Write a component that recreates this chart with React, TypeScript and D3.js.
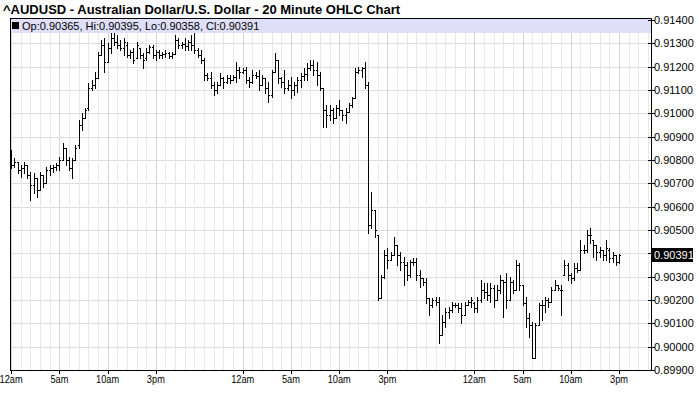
import React, { useEffect } from 'react';
import * as d3 from 'd3';

const title = '^AUDUSD - Australian Dollar/U.S. Dollar - 20 Minute OHLC Chart';
const barMinutes = 20;
const xTickHours = [0, 5, 10, 15, 24, 29, 34, 39, 48, 53, 58, 63];
const xTickLabels = ['12am', '5am', '10am', '3pm', '12am', '5am', '10am', '3pm', '12am', '5am', '10am', '3pm'];
const yTicks = [0.899, 0.9, 0.901, 0.902, 0.903, 0.904, 0.905, 0.906, 0.907, 0.908, 0.909, 0.91, 0.911, 0.912, 0.913, 0.914];
const lastBar = { op: 0.90365, hi: 0.90395, lo: 0.90358, cl: 0.90391 };

const opens = [
  0.90800,0.90779,0.90792,0.90757,0.90766,0.90779,0.90736,0.90693,0.90723,0.90672,
  0.90736,0.90702,0.90757,0.90766,0.90770,0.90779,0.90800,0.90852,0.90800,0.90766,
  0.90800,0.90865,0.90950,0.90980,0.91023,0.91109,0.91122,0.91152,0.91250,0.91293,
  0.91220,0.91280,0.91323,0.91306,0.91293,0.91280,0.91293,0.91250,0.91263,0.91237,
  0.91280,0.91250,0.91237,0.91263,0.91285,0.91250,0.91263,0.91250,0.91255,0.91259,
  0.91246,0.91255,0.91315,0.91293,0.91297,0.91289,0.91306,0.91293,0.91272,0.91250,
  0.91229,0.91165,0.91152,0.91122,0.91100,0.91122,0.91152,0.91135,0.91152,0.91143,
  0.91156,0.91186,0.91177,0.91186,0.91143,0.91135,0.91165,0.91160,0.91122,0.91152,
  0.91109,0.91079,0.91177,0.91229,0.91152,0.91135,0.91109,0.91122,0.91100,0.91122,
  0.91143,0.91160,0.91169,0.91195,0.91207,0.91186,0.91165,0.91109,0.91015,0.90993,
  0.91015,0.90980,0.91023,0.91015,0.90993,0.91006,0.91036,0.91066,0.91177,0.91186,
  0.91195,0.91122,0.90522,0.90586,0.90479,0.90209,0.90299,0.90393,0.90372,0.90393,
  0.90436,0.90393,0.90363,0.90350,0.90307,0.90363,0.90363,0.90307,0.90295,0.90277,
  0.90209,0.90179,0.90200,0.90192,0.90050,0.90106,0.90149,0.90157,0.90179,0.90179,
  0.90166,0.90136,0.90179,0.90192,0.90187,0.90166,0.90200,0.90243,0.90235,0.90222,
  0.90252,0.90200,0.90243,0.90286,0.90277,0.90200,0.90277,0.90243,0.90350,0.90265,
  0.90187,0.90123,0.90093,0.89952,0.90093,0.90179,0.90179,0.90200,0.90192,0.90243,
  0.90265,0.90243,0.90307,0.90350,0.90307,0.90295,0.90337,0.90329,0.90415,0.90415,
  0.90479,0.90457,0.90436,0.90406,0.90415,0.90393,0.90415,0.90380,0.90393,0.90365,
];
const highs = [
  0.90843,0.90809,0.90792,0.90779,0.90792,0.90779,0.90749,0.90745,0.90723,0.90749,
  0.90736,0.90770,0.90779,0.90779,0.90787,0.90813,0.90873,0.90852,0.90813,0.90809,
  0.90865,0.90972,0.91002,0.91023,0.91130,0.91143,0.91177,0.91263,0.91315,0.91323,
  0.91302,0.91345,0.91345,0.91336,0.91315,0.91323,0.91306,0.91272,0.91280,0.91306,
  0.91280,0.91259,0.91280,0.91293,0.91293,0.91272,0.91272,0.91263,0.91272,0.91263,
  0.91263,0.91336,0.91323,0.91306,0.91323,0.91315,0.91336,0.91345,0.91280,0.91272,
  0.91237,0.91173,0.91177,0.91135,0.91135,0.91173,0.91156,0.91165,0.91165,0.91165,
  0.91220,0.91199,0.91195,0.91199,0.91156,0.91186,0.91177,0.91186,0.91165,0.91152,
  0.91135,0.91186,0.91259,0.91229,0.91156,0.91186,0.91143,0.91156,0.91135,0.91156,
  0.91173,0.91195,0.91216,0.91229,0.91229,0.91220,0.91177,0.91109,0.91036,0.91036,
  0.91023,0.91036,0.91057,0.91015,0.91023,0.91045,0.91070,0.91195,0.91199,0.91199,
  0.91220,0.91135,0.90663,0.90586,0.90479,0.90307,0.90415,0.90423,0.90406,0.90470,
  0.90436,0.90406,0.90385,0.90363,0.90372,0.90380,0.90380,0.90329,0.90295,0.90295,
  0.90209,0.90209,0.90213,0.90213,0.90136,0.90166,0.90170,0.90192,0.90187,0.90187,
  0.90187,0.90192,0.90200,0.90213,0.90192,0.90213,0.90286,0.90273,0.90273,0.90273,
  0.90265,0.90265,0.90307,0.90286,0.90316,0.90299,0.90286,0.90372,0.90359,0.90265,
  0.90213,0.90145,0.90106,0.90102,0.90187,0.90200,0.90213,0.90209,0.90256,0.90286,
  0.90265,0.90265,0.90372,0.90359,0.90316,0.90359,0.90359,0.90457,0.90436,0.90500,
  0.90509,0.90457,0.90436,0.90427,0.90415,0.90457,0.90423,0.90406,0.90393,0.90395,
];
const lows = [
  0.90766,0.90770,0.90745,0.90727,0.90745,0.90723,0.90629,0.90659,0.90642,0.90672,
  0.90685,0.90702,0.90736,0.90749,0.90757,0.90757,0.90800,0.90779,0.90757,0.90723,
  0.90800,0.90852,0.90929,0.90980,0.91015,0.91100,0.91109,0.91152,0.91250,0.91177,
  0.91220,0.91259,0.91293,0.91280,0.91272,0.91250,0.91242,0.91237,0.91216,0.91237,
  0.91237,0.91195,0.91229,0.91259,0.91237,0.91229,0.91237,0.91237,0.91242,0.91237,
  0.91237,0.91255,0.91280,0.91280,0.91272,0.91272,0.91272,0.91259,0.91242,0.91216,
  0.91143,0.91143,0.91109,0.91079,0.91087,0.91122,0.91109,0.91130,0.91130,0.91143,
  0.91135,0.91152,0.91173,0.91130,0.91113,0.91130,0.91152,0.91100,0.91122,0.91087,
  0.91049,0.91070,0.91177,0.91130,0.91113,0.91087,0.91100,0.91066,0.91079,0.91092,
  0.91113,0.91143,0.91143,0.91186,0.91165,0.91122,0.91100,0.90942,0.90942,0.90972,
  0.90959,0.90980,0.90993,0.90972,0.90959,0.91006,0.91027,0.91066,0.91173,0.91156,
  0.91109,0.90487,0.90509,0.90470,0.90200,0.90209,0.90295,0.90337,0.90372,0.90393,
  0.90350,0.90329,0.90265,0.90286,0.90299,0.90350,0.90286,0.90256,0.90265,0.90187,
  0.90136,0.90170,0.90179,0.90016,0.90050,0.90085,0.90123,0.90149,0.90170,0.90149,
  0.90102,0.90136,0.90179,0.90170,0.90149,0.90149,0.90192,0.90209,0.90200,0.90192,
  0.90170,0.90200,0.90230,0.90127,0.90166,0.90200,0.90230,0.90243,0.90243,0.90179,
  0.90085,0.90042,0.89952,0.89952,0.90093,0.90115,0.90149,0.90170,0.90192,0.90243,
  0.90243,0.90136,0.90307,0.90286,0.90273,0.90286,0.90320,0.90329,0.90402,0.90406,
  0.90445,0.90385,0.90372,0.90385,0.90372,0.90372,0.90363,0.90363,0.90350,0.90358,
];
const closes = [
  0.90779,0.90792,0.90757,0.90766,0.90779,0.90736,0.90693,0.90723,0.90672,0.90736,
  0.90702,0.90757,0.90766,0.90770,0.90779,0.90800,0.90852,0.90800,0.90766,0.90800,
  0.90852,0.90950,0.90980,0.91015,0.91109,0.91122,0.91152,0.91250,0.91293,0.91220,
  0.91280,0.91323,0.91306,0.91293,0.91280,0.91306,0.91250,0.91263,0.91229,0.91293,
  0.91250,0.91229,0.91263,0.91285,0.91250,0.91263,0.91250,0.91255,0.91259,0.91246,
  0.91255,0.91315,0.91293,0.91297,0.91289,0.91306,0.91293,0.91272,0.91250,0.91229,
  0.91165,0.91152,0.91122,0.91100,0.91122,0.91152,0.91135,0.91152,0.91143,0.91156,
  0.91186,0.91177,0.91186,0.91143,0.91135,0.91165,0.91160,0.91122,0.91152,0.91109,
  0.91079,0.91177,0.91229,0.91152,0.91135,0.91109,0.91122,0.91100,0.91122,0.91143,
  0.91160,0.91169,0.91195,0.91207,0.91186,0.91165,0.91109,0.91015,0.90993,0.91015,
  0.90980,0.91023,0.91015,0.90993,0.91006,0.91036,0.91066,0.91177,0.91186,0.91195,
  0.91122,0.90522,0.90586,0.90500,0.90209,0.90299,0.90393,0.90372,0.90393,0.90436,
  0.90393,0.90363,0.90350,0.90307,0.90363,0.90363,0.90307,0.90295,0.90277,0.90209,
  0.90179,0.90200,0.90192,0.90050,0.90106,0.90149,0.90157,0.90179,0.90179,0.90166,
  0.90136,0.90179,0.90192,0.90200,0.90166,0.90200,0.90243,0.90235,0.90222,0.90252,
  0.90200,0.90243,0.90286,0.90277,0.90200,0.90277,0.90243,0.90350,0.90265,0.90187,
  0.90123,0.90093,0.89952,0.90093,0.90179,0.90179,0.90200,0.90192,0.90243,0.90265,
  0.90252,0.90243,0.90350,0.90307,0.90295,0.90337,0.90329,0.90415,0.90415,0.90479,
  0.90479,0.90436,0.90406,0.90415,0.90393,0.90423,0.90380,0.90393,0.90363,0.90391,
];

const W = 700;
const H = 411;
const plotLeft = 10;
const plotRight = 651;
const plotTop = 18;
const plotBottom = 370;
const FONT = '"Liberation Sans", Arial, sans-serif';

export default function App() {
  useEffect(() => {
    document.body.style.margin = '0';
  }, []);

  const x = d3.scaleLinear().domain([0, 63]).range([11.1, 619]);
  const y = d3.scaleLinear().domain([0.899, 0.914]).range([370, 20]);
  const px = (v: number) => Math.round(v);

  const gridHours = d3.range(0, 67).filter((h) => x(h) > plotLeft && x(h) < plotRight);
  const bars = opens.map((o, i) => ({
    t: (i * barMinutes) / 60,
    o,
    h: highs[i],
    l: lows[i],
    c: closes[i],
  }));
  const fmt = (v: number) => v.toFixed(5);
  const lastY = y(lastBar.cl);

  return (
    <svg width={W} height={H} style={{ display: 'block' }} shapeRendering="crispEdges">
      <rect x={0} y={0} width={W} height={H} fill="#ffffff" />
      {/* grid */}
      {yTicks.map((t) => (
        <line key={'hy' + t} x1={plotLeft} x2={plotRight} y1={px(y(t)) + 0.5} y2={px(y(t)) + 0.5} stroke="#dedede" />
      ))}
      {gridHours.map((h) => (
        <line
          key={'vx' + h}
          x1={px(x(h)) + 0.5}
          x2={px(x(h)) + 0.5}
          y1={plotTop}
          y2={plotBottom}
          stroke={xTickHours.includes(h) ? '#d4d4d4' : '#e8e8e8'}
        />
      ))}
      {/* legend band */}
      <rect x={plotLeft} y={plotTop} width={plotRight - plotLeft} height={15} fill="#dfdff8" />
      <rect x={12} y={22} width={7} height={7} fill="#000" />
      <text x={22} y={30} fontFamily={FONT} fontSize={11} fill="#000" shapeRendering="auto">
        {`Op:${fmt(lastBar.op)}, Hi:${fmt(lastBar.hi)}, Lo:${fmt(lastBar.lo)}, Cl:${fmt(lastBar.cl)}`}
      </text>
      {/* bars */}
      <g fill="#000">
        {bars.map((b, i) => {
          const cx = px(x(b.t));
          const yh = px(y(b.h));
          const yl = px(y(b.l));
          return (
            <g key={i}>
              <rect x={cx} y={yh} width={1} height={Math.max(1, yl - yh + 1)} />
              <rect x={cx - 1} y={px(y(b.o))} width={1} height={1} />
              <rect x={cx + 1} y={px(y(b.c))} width={1} height={1} />
            </g>
          );
        })}
      </g>
      {/* frame */}
      <rect x={plotLeft + 0.5} y={plotTop + 0.5} width={plotRight - plotLeft} height={plotBottom - plotTop} fill="none" stroke="#000" />
      {/* right axis */}
      {yTicks.map((t) => (
        <g key={'yt' + t}>
          <line x1={plotRight - 3} x2={plotRight + 4} y1={px(y(t)) + 0.5} y2={px(y(t)) + 0.5} stroke="#000" />
          {Math.abs(y(t) - lastY) > 11 && (
            <text x={654} y={y(t) + 4} fontFamily={FONT} fontSize={11} fill="#000" shapeRendering="auto">
              {fmt(t)}
            </text>
          )}
        </g>
      ))}
      <rect x={652} y={px(lastY) - 7} width={41} height={14} fill="#000" />
      <text x={654} y={lastY + 4} fontFamily={FONT} fontSize={11} fill="#fff" shapeRendering="auto">
        {fmt(lastBar.cl)}
      </text>
      {/* bottom axis */}
      {xTickHours.map((h, i) => (
        <g key={'xt' + i}>
          <line x1={px(x(h)) + 0.5} x2={px(x(h)) + 0.5} y1={plotBottom} y2={plotBottom + 4} stroke="#000" />
          <text
            transform={`translate(${Math.max(x(h), 10)},383) scale(0.84,1)`}
            textAnchor="middle"
            fontFamily={FONT}
            fontSize={11}
            fill="#000"
            shapeRendering="auto"
          >
            {xTickLabels[i]}
          </text>
        </g>
      ))}
      {/* title */}
      <text x={3} y={14} fontFamily={FONT} fontSize={13} fontWeight="bold" fill="#000" shapeRendering="auto">
        {title}
      </text>
    </svg>
  );
}
